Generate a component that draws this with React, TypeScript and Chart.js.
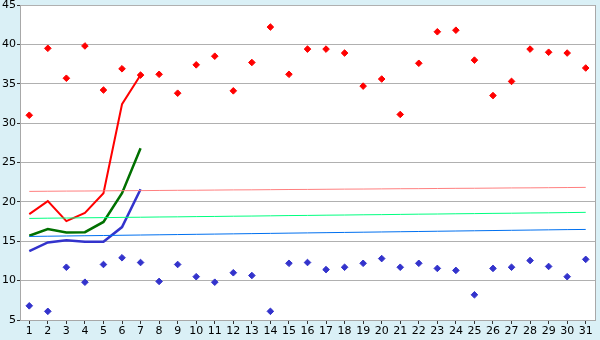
import React, { useEffect, useRef } from "react";
import { Chart, registerables } from "chart.js";
Chart.register(...registerables);

const categories = Array.from({ length: 31 }, (_, i) => String(i + 1));

const redPoints = [31.0, 39.5, 35.7, 39.8, 34.2, 36.9, 36.1, 36.2, 33.8, 37.4, 38.5, 34.1, 37.7, 42.2, 36.2, 39.4, 39.4, 38.9, 34.7, 35.6, 31.1, 37.6, 41.6, 41.8, 38.0, 33.5, 35.3, 39.4, 39.0, 38.9, 37.0];
const bluePoints = [6.8, 6.1, 11.7, 9.8, 12.05, 12.9, 12.3, 9.9, 12.05, 10.5, 9.8, 11.0, 10.65, 6.1, 12.2, 12.3, 11.4, 11.7, 12.2, 12.8, 11.7, 12.2, 11.55, 11.3, 8.2, 11.55, 11.7, 12.55, 11.8, 10.5, 12.7];

const redLine = [18.45, 20.1, 17.56, 18.6, 21.1, 32.4, 36.1];
const greenLine = [15.7, 16.55, 16.1, 16.15, 17.45, 21.1, 26.8];
const blueLine = [13.74, 14.85, 15.14, 14.93, 14.93, 16.8, 21.6];

const pinkRef = [21.33, 21.35, 21.37, 21.38, 21.40, 21.42, 21.43, 21.45, 21.47, 21.48, 21.50, 21.52, 21.53, 21.55, 21.57, 21.58, 21.60, 21.62, 21.63, 21.65, 21.67, 21.68, 21.70, 21.72, 21.73, 21.75, 21.77, 21.78, 21.80, 21.82, 21.84];
const greenRef = [17.90, 17.93, 17.95, 17.98, 18.00, 18.03, 18.05, 18.08, 18.10, 18.13, 18.15, 18.18, 18.20, 18.23, 18.26, 18.28, 18.31, 18.33, 18.36, 18.38, 18.41, 18.44, 18.46, 18.49, 18.51, 18.54, 18.56, 18.59, 18.61, 18.64, 18.67];
const blueRef = [15.61, 15.64, 15.67, 15.70, 15.73, 15.76, 15.79, 15.82, 15.85, 15.88, 15.91, 15.94, 15.97, 16.00, 16.03, 16.06, 16.09, 16.12, 16.15, 16.18, 16.21, 16.24, 16.27, 16.30, 16.33, 16.36, 16.39, 16.42, 16.45, 16.48, 16.50];

const yTicks = [5, 10, 15, 20, 25, 30, 35, 40, 45];

const bgPlugin = {
  id: "bg",
  beforeDraw(chart: any) {
    const { ctx, chartArea, width, height } = chart;
    ctx.save();
    ctx.fillStyle = "#daf0f6";
    ctx.fillRect(0, 0, width, height);
    ctx.fillStyle = "#ffffff";
    ctx.fillRect(chartArea.left, chartArea.top, chartArea.right - chartArea.left, chartArea.bottom - chartArea.top);
    ctx.restore();
  },
  afterDraw(chart: any) {
    const { ctx, chartArea } = chart;
    ctx.save();
    ctx.strokeStyle = "#a8a8a8";
    ctx.lineWidth = 1;
    ctx.beginPath();
    ctx.moveTo(Math.round(chartArea.right) + 0.5, chartArea.top);
    ctx.lineTo(Math.round(chartArea.right) + 0.5, chartArea.bottom);
    ctx.stroke();
    ctx.restore();
  },
};

export default function App() {
  const ref = useRef<HTMLCanvasElement>(null);
  useEffect(() => {
    document.body.style.margin = "0";
    const line = (data: number[], color: string, width: number) => ({
      type: "line" as const,
      data,
      borderColor: color,
      backgroundColor: color,
      borderWidth: width,
      pointRadius: 0,
      tension: 0,
      fill: false,
    });
    const pts = (data: number[], color: string) => ({
      type: "line" as const,
      data,
      borderColor: color,
      backgroundColor: color,
      showLine: false,
      pointStyle: "rectRot",
      pointRadius: 3.3,
      pointBorderWidth: 1,
    });
    const chart = new Chart(ref.current!, {
      type: "line",
      data: {
        labels: categories,
        datasets: [
          line(pinkRef, "#ff8080", 1),
          line(greenRef, "#00ff80", 1),
          line(blueRef, "#0070f0", 1),
          line(redLine, "#ff0000", 2),
          line(greenLine, "#007000", 2.5),
          line(blueLine, "#3333cc", 2.5),
          pts(redPoints, "#ff0000"),
          pts(bluePoints, "#3333cc"),
        ] as any,
      },
      plugins: [bgPlugin],
      options: {
        animation: false,
        responsive: false,
        maintainAspectRatio: false,
        layout: { padding: { top: 5, right: 5, left: 0, bottom: 0 } },
        plugins: { legend: { display: false }, tooltip: { enabled: false } },
        scales: {
          x: {
            offset: true,
            grid: { drawOnChartArea: false, drawTicks: true, tickLength: 4, color: "#333333" },
            border: { color: "#a8a8a8" },
            ticks: { color: "#000", font: { family: "DejaVu Sans", size: 11 }, padding: 1, autoSkip: false, maxRotation: 0 },
            afterFit: (s: any) => { s.height = 20; s.paddingLeft = 0; s.paddingRight = 0; },
          },
          y: {
            min: 5,
            max: 45,
            afterBuildTicks: (s: any) => { s.ticks = yTicks.map((v) => ({ value: v })); },
            grid: { color: "#b0b0b0", tickLength: 3, tickColor: "#333333" },
            border: { color: "#a8a8a8" },
            ticks: { color: "#000", font: { family: "DejaVu Sans", size: 11 }, padding: 1 },
            afterFit: (s: any) => { s.width = 20; s.paddingTop = 0; s.paddingBottom = 0; },
          },
        },
      },
    });
    return () => chart.destroy();
  }, []);
  return <canvas ref={ref} width={600} height={340} style={{ display: "block" }} />;
}
